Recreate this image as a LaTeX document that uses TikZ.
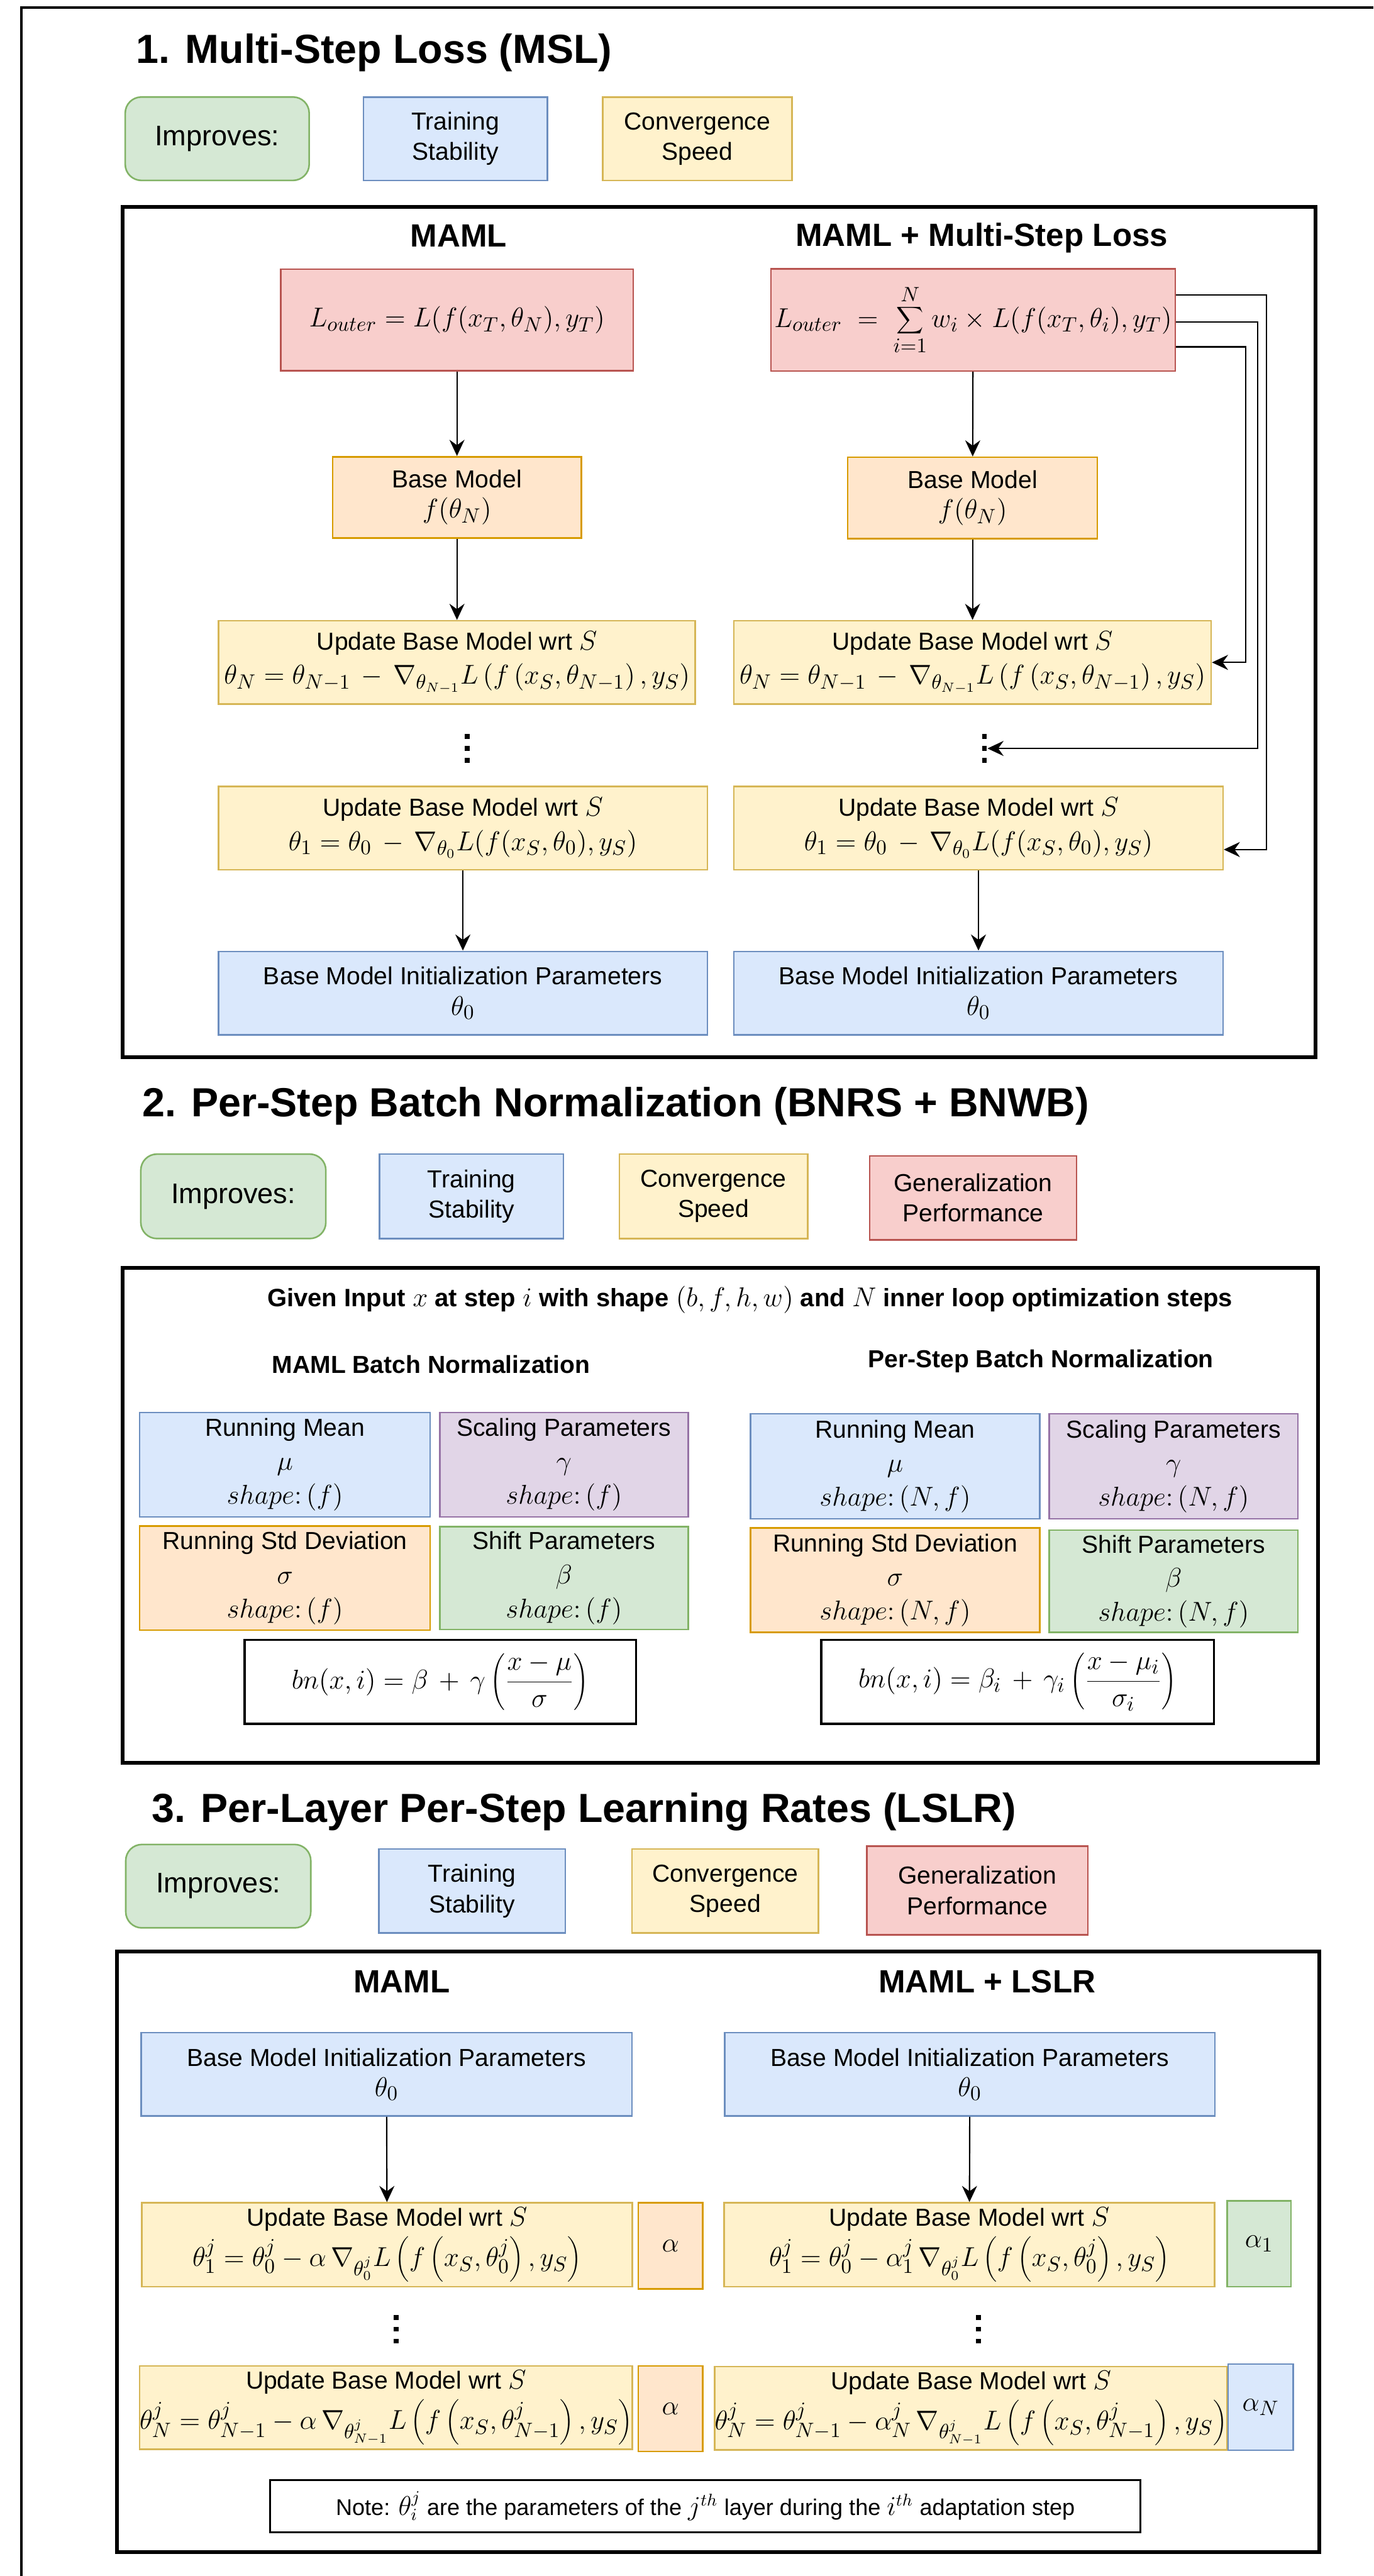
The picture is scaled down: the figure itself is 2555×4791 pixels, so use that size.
\documentclass[tikz,border=0pt]{standalone}
\usepackage{fontspec}
\setmainfont{Liberation Sans}
\usetikzlibrary{arrows.meta}

\definecolor{gfill}{HTML}{D5E8D4}\definecolor{gline}{HTML}{82B366}
\definecolor{bfill}{HTML}{DAE8FC}\definecolor{bline}{HTML}{6C8EBF}
\definecolor{yfill}{HTML}{FFF2CC}\definecolor{yline}{HTML}{D6B656}
\definecolor{rfill}{HTML}{F8CECC}\definecolor{rline}{HTML}{B85450}
\definecolor{ofill}{HTML}{FFE6CC}\definecolor{oline}{HTML}{D79B00}
\definecolor{pfill}{HTML}{E1D5E7}\definecolor{pline}{HTML}{9673A6}

\newcommand\mjx[1]{{\fontsize{15}{18}\selectfont$#1$}}
\newcommand\mjn[1]{{\fontsize{13.5}{16}\selectfont$#1$}}

\begin{document}
\begin{tikzpicture}[x=0.01cm,y=-0.01cm,
  cell/.style={draw,line width=0.03cm,inner sep=0pt,align=center,font=\fontsize{13}{16}\selectfont},
  wh/.style 2 args={minimum width=#1cm,minimum height=#2cm},
  grn/.style={cell,draw=gline,fill=gfill},
  blu/.style={cell,draw=bline,fill=bfill},
  ylw/.style={cell,draw=yline,fill=yfill},
  rd/.style={cell,draw=rline,fill=rfill},
  org/.style={cell,draw=oline,fill=ofill},
  prp/.style={cell,draw=pline,fill=pfill},
  improves/.style={grn,rounded corners=0.3cm,font=\fontsize{15}{18}\selectfont},
  frame/.style={line width=0.07cm},
  eqbox/.style={cell,line width=0.04cm},
  sectitle/.style={anchor=base west,inner sep=0pt,font=\bfseries\fontsize{21.5}{26}\selectfont},
  coltitle/.style={anchor=base,inner sep=0pt,font=\bfseries\fontsize{17}{20}\selectfont},
  arr/.style={-{Stealth[length=0.3cm,width=0.28cm,inset=0.1cm]},line width=0.025cm},
  vdots/.style={minimum width=0.1cm,minimum height=0.53cm,inner sep=0pt,
    path picture={\draw[line width=0.09cm,dash pattern=on 0.09cm off 0.13cm]
      (path picture bounding box.north) -- (path picture bounding box.south);}}]

\useasboundingbox (0,0) rectangle (2555,4791);
\draw[line width=0.04cm] (40,4791) -- (40,14) -- (2555,14);

% 1. multi-step loss
\node[sectitle] (t1) at (253,118) {1. Multi-Step Loss (MSL)};
\node[improves,wh={3.42}{1.55}] (imp1) at (404,258) {Improves:};
\node[blu,wh={3.42}{1.55}] (ts1) at (847,258) {Training\\Stability};
\node[ylw,wh={3.52}{1.55}] (cs1) at (1297,258) {Convergence\\Speed};
\draw[frame] (228,385) rectangle (2447,1966);

\node[coltitle] (h1a) at (853,459) {MAML};
\node[rd,wh={6.55}{1.89}] (lossL) at (850,595) {\mjx{L_{outer} = L(f(x_T,\theta_N),y_T)}};
\node[org,wh={4.62}{1.51}] (baseL) at (850,925) {Base Model\\\mjx{f(\theta_N)}};
\node[ylw,wh={8.86}{1.55}] (updNL) at (850,1232) {Update Base Model wrt \mjx{S}\\[2pt]
  \mjx{\theta_N = \theta_{N-1} \,-\, \nabla_{\theta_{N-1}} L\left(f\left(x_S,\theta_{N-1}\right),y_S\right)}};
\node[vdots] (dotsL) at (869,1392) {};
\node[ylw,wh={9.09}{1.55}] (upd1L) at (861,1540) {Update Base Model wrt \mjx{S}\\[2pt]
  \mjx{\theta_1 = \theta_0 \,-\, \nabla_{\theta_0} L(f(x_S,\theta_0),y_S)}};
\node[blu,wh={9.09}{1.55}] (initL) at (861,1847) {Base Model Initialization Parameters\\\mjx{\theta_0}};
\draw[arr] (lossL) -- (baseL);
\draw[arr] (baseL) -- (updNL);
\draw[arr] (upd1L) -- (initL);

\node[coltitle] (h1b) at (1826,458) {MAML + Multi-Step Loss};
\node[rd,wh={7.52}{1.90}] (lossR) at (1810,595)
  {\mjx{L_{outer} \;=\; \displaystyle\sum_{i=1}^{N} w_i \times L(f(x_T,\theta_i),y_T)}};
\node[org,wh={4.64}{1.51}] (baseR) at (1809,926) {Base Model\\\mjx{f(\theta_N)}};
\node[ylw,wh={8.87}{1.55}] (updNR) at (1809,1232) {Update Base Model wrt \mjx{S}\\[2pt]
  \mjx{\theta_N = \theta_{N-1} \,-\, \nabla_{\theta_{N-1}} L\left(f\left(x_S,\theta_{N-1}\right),y_S\right)}};
\node[vdots] (dotsR) at (1831,1392) {};
\node[ylw,wh={9.09}{1.55}] (upd1R) at (1820,1540) {Update Base Model wrt \mjx{S}\\[2pt]
  \mjx{\theta_1 = \theta_0 \,-\, \nabla_{\theta_0} L(f(x_S,\theta_0),y_S)}};
\node[blu,wh={9.09}{1.55}] (initR) at (1820,1847) {Base Model Initialization Parameters\\\mjx{\theta_0}};
\draw[arr] (lossR) -- (baseR);
\draw[arr] (baseR) -- (updNR);
\draw[arr] (upd1R) -- (initR);
\draw[arr] ([yshift=0.46cm]lossR.east) -- ++(168,0) |- ([yshift=-0.4cm]upd1R.east);
\draw[arr] ([yshift=-0.04cm]lossR.east) -- ++(152,0) |- (dotsR.east);
\draw[arr] ([yshift=-0.5cm]lossR.east) -- ++(129,0) |- (updNR.east);

% 2. per-step batch norm
\node[sectitle] (t2) at (264,2077) {2. Per-Step Batch Normalization (BNRS + BNWB)};
\node[improves,wh={3.44}{1.57}] (imp2) at (434,2225) {Improves:};
\node[blu,wh={3.42}{1.57}] (ts2) at (877,2225) {Training\\Stability};
\node[ylw,wh={3.50}{1.57}] (cs2) at (1327,2225) {Convergence\\Speed};
\node[rd,wh={3.85}{1.56}] (gp2) at (1810,2228) {Generalization\\Performance};
\draw[frame] (228,2358) rectangle (2452,3279);

\node[anchor=base,inner sep=0pt,font=\bfseries\fontsize{13.3}{16}\selectfont] (given) at (1395,2430)
  {Given Input $x$ at step $i$ with shape $(b,f,h,w)$ and $N$ inner loop optimization steps};
\node[anchor=base,inner sep=0pt,font=\bfseries\fontsize{13}{16}\selectfont] (h2a) at (802,2554) {MAML Batch Normalization};
\node[anchor=base,inner sep=0pt,font=\bfseries\fontsize{13}{16}\selectfont] (h2b) at (1936,2544) {Per-Step Batch Normalization};

\node[blu,wh={5.40}{1.94}] (meanL) at (530,2724) {Running Mean\\[2pt]\mjx{\mu}\\[2pt]\mjx{shape{:}\,(f)}};
\node[prp,wh={4.62}{1.94}] (scaleL) at (1049,2724) {Scaling Parameters\\[2pt]\mjx{\gamma}\\[2pt]\mjx{shape{:}\,(f)}};
\node[org,wh={5.40}{1.93}] (stdL) at (530,2935) {Running Std Deviation\\[2pt]\mjx{\sigma}\\[2pt]\mjx{shape{:}\,(f)}};
\node[grn,wh={4.62}{1.91}] (shiftL) at (1049,2935) {Shift Parameters\\[2pt]\mjx{\beta}\\[2pt]\mjx{shape{:}\,(f)}};
\node[eqbox,wh={7.28}{1.56}] (bnL) at (819,3128)
  {\mjx{bn(x,i) = \beta \,+\, \gamma\left(\displaystyle\frac{x-\mu}{\sigma}\right)}};

\node[blu,wh={5.38}{1.95}] (meanR) at (1665,2727) {Running Mean\\[2pt]\mjx{\mu}\\[2pt]\mjx{shape{:}\,(N,f)}};
\node[prp,wh={4.62}{1.95}] (scaleR) at (2183,2727) {Scaling Parameters\\[2pt]\mjx{\gamma}\\[2pt]\mjx{shape{:}\,(N,f)}};
\node[org,wh={5.38}{1.94}] (stdR) at (1665,2939) {Running Std Deviation\\[2pt]\mjx{\sigma}\\[2pt]\mjx{shape{:}\,(N,f)}};
\node[grn,wh={4.62}{1.90}] (shiftR) at (2183,2941) {Shift Parameters\\[2pt]\mjx{\beta}\\[2pt]\mjx{shape{:}\,(N,f)}};
\node[eqbox,wh={7.30}{1.56}] (bnR) at (1893,3128)
  {\mjx{bn(x,i) = \beta_i \,+\, \gamma_i\left(\displaystyle\frac{x-\mu_i}{\sigma_i}\right)}};

% 3. per-layer per-step learning rates
\node[sectitle] (t3) at (282,3389) {3. Per-Layer Per-Step Learning Rates (LSLR)};
\node[improves,wh={3.44}{1.55}] (imp3) at (406,3508) {Improves:};
\node[blu,wh={3.47}{1.56}] (ts3) at (878,3517) {Training\\Stability};
\node[ylw,wh={3.47}{1.56}] (cs3) at (1349,3517) {Convergence\\Speed};
\node[rd,wh={4.11}{1.65}] (gp3) at (1818,3516) {Generalization\\Performance};
\draw[frame] (217,3629) rectangle (2454,4746);

\node[coltitle] (h3a) at (747,3706) {MAML};
\node[coltitle] (h3b) at (1836,3706) {MAML + LSLR};

\node[blu,wh={9.12}{1.55}] (init3L) at (719,3858) {Base Model Initialization Parameters\\\mjx{\theta_0}};
\node[ylw,wh={9.12}{1.56}] (up1L) at (720,4175) {Update Base Model wrt \mjx{S}\\[2pt]
  \mjx{\theta^j_1 = \theta^j_0 - \alpha\,\nabla_{\theta^j_0} L\left(f\left(x_S,\theta^j_0\right),y_S\right)}};
\node[org,wh={1.20}{1.60}] (aL1) at (1247,4177) {\mjx{\alpha}};
\node[vdots] (dots3L) at (737,4332) {};
\node[ylw,wh={9.09}{1.55}] (upNL) at (718,4478) {Update Base Model wrt \mjx{S}\\[2pt]
  \mjx{\theta^j_N = \theta^j_{N-1} - \alpha\,\nabla_{\theta^j_{N-1}} L\left(f\left(x_S,\theta^j_{N-1}\right),y_S\right)}};
\node[org,wh={1.20}{1.59}] (aLN) at (1247,4480) {\mjx{\alpha}};
\draw[arr] (init3L) -- (up1L);

\node[blu,wh={9.11}{1.55}] (init3R) at (1804,3858) {Base Model Initialization Parameters\\\mjx{\theta_0}};
\node[ylw,wh={9.12}{1.56}] (up1R) at (1803,4175) {Update Base Model wrt \mjx{S}\\[2pt]
  \mjx{\theta^j_1 = \theta^j_0 - \alpha^j_1\,\nabla_{\theta^j_0} L\left(f\left(x_S,\theta^j_0\right),y_S\right)}};
\node[grn,wh={1.19}{1.60}] (aR1) at (2342,4173) {\mjx{\alpha_1}};
\node[vdots] (dots3R) at (1820,4332) {};
\node[ylw,wh={9.29}{1.55}] (upNR) at (1806,4479) {Update Base Model wrt \mjx{S}\\[2pt]
  \mjx{\theta^j_N = \theta^j_{N-1} - \alpha^j_N\,\nabla_{\theta^j_{N-1}} L\left(f\left(x_S,\theta^j_{N-1}\right),y_S\right)}};
\node[blu,wh={1.21}{1.60}] (aRN) at (2345,4477) {\mjx{\alpha_N}};
\draw[arr] (init3R) -- (up1R);

\node[eqbox,wh={16.18}{0.97},font=\fontsize{12}{15}\selectfont] (note) at (1312,4661)
  {Note: \mjn{\theta^j_i} are the parameters of the \mjn{j^{th}} layer during the \mjn{i^{th}} adaptation step};
\end{tikzpicture}
\end{document}
